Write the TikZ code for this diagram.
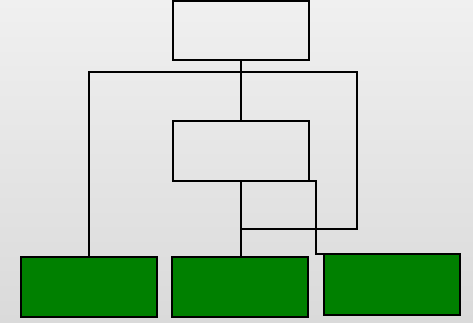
\documentclass[tikz,border=0pt]{standalone}
\begin{document}
\begin{tikzpicture}[x=1pt,y=-1pt,
  box/.style={draw=black,line width=2pt,rectangle,minimum width=136pt,minimum height=60pt,inner sep=0pt,outer sep=0pt},
  greenbox/.style={box,fill={rgb,255:red,0;green,128;blue,0}},
  conn/.style={draw=black,line width=2pt}]
\shade[top color={rgb,255:red,240;green,240;blue,240},bottom color={rgb,255:red,218;green,218;blue,218}] (0,0) rectangle (473,322);
\useasboundingbox (0,0) rectangle (473,322);
\node[box,minimum height=59pt] (top) at (240.5,30.5) {};
\node[box] (mid) at (240.5,151) {};
\node[greenbox,minimum height=60.6pt] (g1) at (88.7,287) {};
\node[greenbox,minimum height=60.6pt] (g2) at (239.5,287) {};
\node[greenbox,minimum height=60.4pt] (g3) at (392.2,284.5) {};
\coordinate (hr) at (357.3,72.3);
\coordinate (rb) at (357.3,229.3);
\coordinate (c3) at (316.3,254.3);
\path[conn] (top.south) -- (mid.north);
\path[conn] (g1.north) |- (hr) -- (rb) -| (mid.south);
\path[conn] (mid.south) -- (mid.south |- g2.north);
\path[conn] (mid.south east) -| (c3) -- (g3.north);
\end{tikzpicture}
\end{document}
